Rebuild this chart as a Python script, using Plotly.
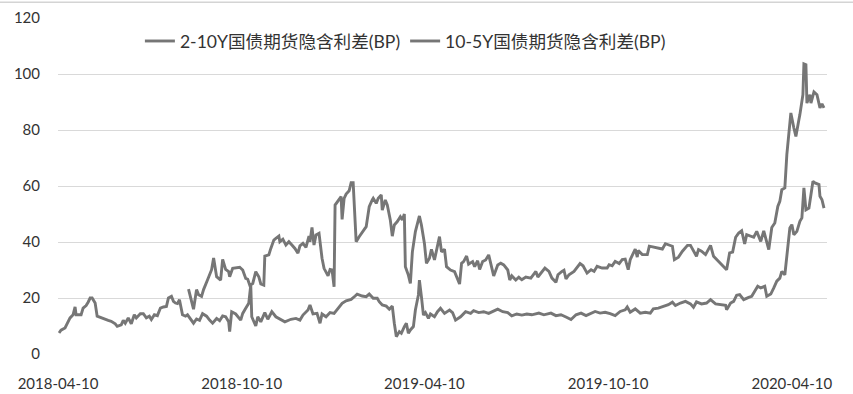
import pandas as pd
import plotly.graph_objects as go

START = "2018-04-10"

# 10-5Y series: days since 2018-04-10, values in BP
days_10_5 = [1, 3, 7, 9, 12, 15, 17, 18, 23, 25, 28, 30, 32, 34, 37, 39, 43, 47, 50, 53,
             57, 59, 63, 65, 67, 70, 73, 76, 78, 82, 85, 88, 91, 93, 96, 99, 102, 105, 108, 110,
             113, 115, 117, 119, 121, 124, 127, 129, 132, 135, 138, 141, 144, 148, 151, 154, 158, 161, 164, 167,
             170, 171, 173, 177, 182, 184, 187, 190, 192, 193, 197, 199, 202, 206, 209, 213, 217, 222, 226, 232,
             237, 241, 244, 249, 251, 254, 258, 261, 263, 267, 271, 275, 278, 283, 287, 292, 296, 298, 303, 307,
             310, 314, 318, 320, 323, 327, 330, 333, 335, 337, 340, 342, 345, 347, 349, 351, 354, 356, 359, 360,
             362, 364, 366, 369, 371, 375, 378, 381, 385, 390, 393, 396, 401, 406, 411, 414, 419, 424, 429, 433,
             438, 443, 448, 452, 457, 462, 467, 472, 479, 484, 491, 496, 501, 506, 511, 516, 521, 526, 531, 535,
             540, 545, 550, 555, 560, 565, 567, 570, 575, 580, 585, 590, 593, 598, 603, 608, 612, 615, 620, 625,
             630, 633, 636, 641, 646, 650, 655, 660, 665, 666, 670, 673, 676, 679, 683, 688, 691, 694, 697, 700,
             704, 706, 710, 713, 716, 719, 721, 724, 726, 729, 731, 733, 736, 739, 741, 743, 745, 748, 750, 752,
             754, 758, 759, 761, 763]
vals_10_5 = [7.5, 8.5, 9.3, 11, 12.9, 14, 16.8, 14, 14, 16.4, 17.3, 18.5, 20, 20, 18.2, 13.5, 12.9, 12.3, 12, 11.7,
             10.8, 9.9, 10.4, 12, 11, 12.9, 10.8, 14, 12.9, 14.4, 14.4, 12.9, 13.5, 12.3, 14, 13.7, 16.4, 16.8, 17, 20,
             20.6, 18.8, 18.2, 18, 19.4, 14, 13.5, 14, 12.5, 11, 12.5, 12, 14.4, 13.5, 12.1, 11, 12.7, 11.9, 13.6, 13.3,
             11.5, 8, 15.1, 14.3, 12.1, 14.5, 16.3, 18.1, 24.6, 13.3, 10, 13.3, 11.5, 14.8, 12.4, 15.1, 13.3, 12.4, 11.5, 12.4,
             12.7, 12.1, 13.9, 15.7, 17.5, 14.3, 14.5, 11, 14.3, 13.3, 14.8, 14.5, 16, 18.1, 19, 19.5, 20.7, 21.4, 20.7, 20.5,
             21.4, 19.9, 19.9, 18.7, 17.5, 17.1, 16, 17.1, 11, 6.2, 8, 7.4, 9.8, 11, 7.4, 8.6, 9.8, 15.7, 21.1, 26.4,
             20.5, 13.9, 14.8, 12.7, 14.3, 13.3, 15.1, 16.3, 14.5, 15.7, 14.8, 12.1, 13.3, 15.1, 14.5, 15.5, 14.8, 15.1, 14.5, 15.1,
             16, 15.1, 14.8, 13.6, 14.3, 13.9, 14.3, 14, 14.6, 14, 14.6, 13.7, 14, 13.2, 12.3, 14, 14.6, 13.7, 14.4, 15.2,
             14.6, 14.9, 14.4, 13.7, 15.2, 15.8, 16.8, 14.9, 16.1, 14.6, 14.9, 14.6, 16.1, 16.4, 17, 17.6, 18.5, 17.3, 18.2, 18.8,
             17.9, 16.7, 18.6, 17.9, 18.2, 19.4, 17.9, 17.6, 17.4, 15.8, 18.2, 18.8, 21, 21.2, 19.4, 20.2, 20.6, 22.4, 24.2, 23.6,
             24.2, 20.6, 21.4, 23.6, 26, 27.1, 29.5, 28.3, 34.3, 45, 46.2, 42.6, 43.8, 47.4, 48.6, 59.3, 51.5, 52.1, 56.9, 61.7,
             61.1, 60.5, 56.3, 55.1, 52.1]

# 2-10Y series: days since 2018-04-10, values in BP
days_2_10 = [130, 133, 135, 138, 140, 143, 145, 149, 151, 153, 155, 158, 162, 164, 167, 170, 171, 174, 181, 184,
             187, 189, 191, 194, 197, 200, 202, 205, 206, 210, 212, 215, 217, 220, 221, 224, 227, 230, 233, 236,
             239, 241, 244, 247, 250, 251, 253, 255, 257, 260, 263, 265, 269, 271, 273, 275, 276, 279, 282, 283,
             285, 287, 290, 292, 294, 297, 300, 307, 310, 313, 314, 317, 319, 322, 323, 326, 328, 331, 333, 335,
             338, 341, 343, 345, 346, 349, 351, 353, 356, 360, 362, 365, 367, 370, 372, 375, 377, 380, 382, 385,
             387, 391, 395, 397, 400, 402, 404, 407, 409, 413, 415, 418, 420, 423, 426, 429, 433, 434, 438, 441,
             444, 448, 450, 452, 456, 459, 462, 466, 471, 476, 478, 482, 485, 489, 492, 496, 498, 502, 504, 506,
             509, 514, 517, 520, 523, 527, 531, 534, 537, 542, 547, 549, 552, 555, 559, 562, 565, 568, 570, 573,
             575, 577, 578, 582, 587, 589, 593, 598, 602, 605, 608, 612, 614, 618, 622, 627, 630, 633, 636, 638,
             641, 645, 650, 653, 658, 663, 666, 669, 672, 675, 678, 681, 684, 686, 690, 693, 696, 700, 703, 706,
             708, 711, 714, 717, 719, 721, 724, 726, 729, 730, 733, 735, 738, 739, 742, 743, 745, 746, 749, 750,
             753, 756, 759, 761, 763]
vals_2_10 = [23.2, 18.2, 16, 23, 21.2, 20.6, 23, 26.5, 28, 30.1, 34.3, 27.6, 26.4, 33.8, 30.2, 29.4, 27.6, 30.6, 31, 30,
             27, 26.7, 24.6, 25.2, 29.4, 27.6, 25, 24.6, 35, 35.4, 37.7, 40.7, 41.3, 42.1, 40.1, 41, 38.9, 40.1, 38.9, 37.7,
             36, 38.6, 39.5, 38.1, 42.1, 40.1, 45.2, 38.9, 42.5, 43.1, 34.2, 30.6, 27.9, 30.2, 30, 24, 53.2, 54.8, 56.2, 48.1,
             55.6, 57.1, 58.3, 61.2, 61.2, 40.1, 41.9, 45.5, 52.6, 55, 55.6, 53.8, 55.6, 56.8, 51.4, 55, 53.2, 47.9, 42.1, 46.1,
             47.3, 49, 47.9, 50, 31.2, 28.2, 25.2, 36.5, 43.7, 49.3, 46.1, 39.5, 32.4, 34.2, 37.4, 33.6, 36.5, 41.9, 36.5, 37.4,
             31.2, 30, 29.4, 27.4, 25, 32.4, 33, 35, 32.1, 33, 31.2, 33.3, 30.2, 33, 33.6, 35.4, 30, 27.9, 31.8, 32.4,
             31.8, 30, 26.4, 27.9, 26.4, 27.4, 26.5, 27.5, 27.1, 29.5, 27.5, 29.5, 30.7, 29.5, 27.1, 25.6, 28.3, 29.5, 29.9, 26.8,
             28.3, 29.5, 30.7, 32.3, 31.5, 28.9, 30.1, 29.5, 31.3, 30.7, 30.7, 31.9, 31.5, 33.1, 32.3, 33.7, 33.9, 30.1, 33.7, 36.1,
             37.5, 34.6, 37, 35.5, 35.5, 38.5, 38.2, 37.9, 37.5, 39.4, 39, 38.5, 33.7, 34.6, 36.7, 38.8, 38.8, 36.7, 34.9, 37.3,
             36.7, 35.5, 38.8, 34.9, 33.1, 31, 30.1, 36.1, 36.4, 41.7, 43.2, 44, 39.3, 42.6, 42, 41.7, 43.8, 40.2, 44, 40.2,
             37.3, 45.2, 46.8, 52.7, 54.5, 58.7, 59.3, 71.2, 83.1, 86.1, 80.7, 77.7, 83.7, 85.5, 92.6, 103.6, 103.3, 89.6, 92.6, 89.6,
             93.6, 92.6, 87.9, 89.3, 87.9]

series_names = ["2-10Y国债期货隐含利差(BP)", "10-5Y国债期货隐含利差(BP)"]
tick_dates = ["2018-04-10", "2018-10-10", "2019-04-10", "2019-10-10", "2020-04-10"]
y_ticks = [0, 20, 40, 60, 80, 100, 120]

start = pd.Timestamp(START)
x_2_10 = start + pd.to_timedelta(days_2_10, unit="D")
x_10_5 = start + pd.to_timedelta(days_10_5, unit="D")

LINE = "#767676"
FONT = "Lato, 'Noto Sans CJK SC', sans-serif"

fig = go.Figure()
fig.add_trace(go.Scatter(x=x_2_10, y=vals_2_10, mode="lines", name=series_names[0],
                         line=dict(color=LINE, width=2.9)))
fig.add_trace(go.Scatter(x=x_10_5, y=vals_10_5, mode="lines", name=series_names[1],
                         line=dict(color=LINE, width=2.9)))

fig.update_layout(
    width=853, height=394,
    margin=dict(l=58, r=26, t=18, b=40),
    paper_bgcolor="white", plot_bgcolor="white",
    font=dict(family=FONT, size=15, color="#333333"),
    showlegend=True,
    legend=dict(orientation="h", x=0.1065, y=0.985, xanchor="left", yanchor="top",
                font=dict(size=17.6, color="#333333"), bgcolor="rgba(0,0,0,0)",
                itemwidth=30, tracegroupgap=0),
    xaxis=dict(type="date", range=["2018-04-10", "2020-05-15"],
               tickvals=tick_dates, ticktext=tick_dates, automargin=False,
               showgrid=False, zeroline=False, showline=False,
               ticks="outside", ticklen=16, tickcolor="rgba(0,0,0,0)",
               tickfont=dict(size=15, color="#333333")),
    yaxis=dict(range=[0, 120], tickvals=y_ticks, automargin=False,
               showgrid=True, gridcolor="#d9d9d9", gridwidth=1,
               zeroline=False, showline=False,
               ticks="outside", ticklen=14, tickcolor="rgba(0,0,0,0)",
               tickfont=dict(size=15, color="#333333")),
    shapes=[dict(type="line", xref="paper", yref="paper",
                 x0=-0.08, x1=1.04, y0=1.047, y1=1.047,
                 line=dict(color="#d4d4d4", width=1.5))],
)

fig.write_html("out.html", config={"displayModeBar": False, "staticPlot": True},
               post_script="document.body.style.margin='0';document.body.style.overflow='hidden';")
